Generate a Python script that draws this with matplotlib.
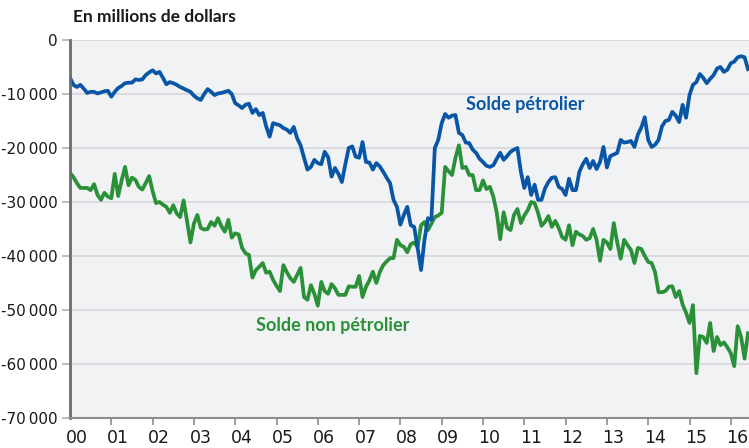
import numpy as np
import matplotlib
matplotlib.use("Agg")
import matplotlib.pyplot as plt
from matplotlib.ticker import FixedLocator, FuncFormatter

# monthly values, Jan 2000 .. Jun 2016 (millions of dollars)
solde_petrolier = [
    -7000, -8300, -8700, -8300, -9000, -9800, -9600, -9600, -9900, -9700, -9500, -9400,
    -10500, -9600, -8900, -8500, -8000, -7900, -7900, -7300, -7400, -7300, -6500, -6000,
    -5600, -6200, -5900, -7000, -8200, -7800, -8000, -8300, -8700, -9000, -9300, -9600,
    -10300, -10800, -11100, -10000, -9100, -9600, -10200, -9900, -9800, -9600, -9400, -10000,
    -11700, -12100, -12600, -12000, -11800, -13500, -12800, -13900, -13500, -16000, -17900, -15400,
    -15600, -15800, -16300, -16600, -17200, -16100, -18200, -19500, -21800, -24000, -23500, -22200,
    -22800, -23000, -20700, -21700, -25300, -23700, -24800, -26300, -23000, -20000, -19700, -21600,
    -21800, -18900, -22600, -22700, -24000, -22800, -23400, -24400, -25500, -26500, -29600, -30900,
    -34200, -32400, -30900, -34300, -34600, -38500, -42600, -37000, -33000, -33300, -20000, -18500,
    -15400, -13700, -14400, -14000, -13900, -17200, -17600, -19000, -19100, -20300, -20900, -22000,
    -22600, -23300, -23500, -23200, -22000, -20900, -22200, -21500, -20700, -20300, -20000, -24400,
    -27400, -25400, -28700, -26800, -29600, -29600, -27500, -26300, -25500, -25400, -27200, -27600,
    -28700, -25700, -27800, -27800, -24400, -23000, -22000, -23700, -22400, -23900, -22600, -19800,
    -23600, -21500, -21200, -20900, -18500, -19000, -18900, -18700, -19800, -17500, -16200, -14300,
    -18500, -19800, -19400, -18500, -16000, -15000, -14800, -13300, -14000, -15200, -12000, -14400,
    -10200, -8300, -7800, -6300, -7000, -8000, -7200, -6500, -5300, -5000, -5900, -5500,
    -4300, -4000, -3200, -3000, -3200, -5400,
]

solde_non_petrolier = [
    -24600, -25400, -26500, -27400, -27400, -27400, -27800, -26700, -28700, -29600, -28300, -29000,
    -29300, -24800, -28900, -26000, -23500, -26900, -25500, -25900, -27200, -27700, -26500, -25200,
    -28000, -30200, -30000, -30500, -30900, -32000, -30600, -32100, -32800, -29700, -33500, -37500,
    -34000, -32400, -34800, -35100, -35000, -33700, -34400, -33000, -34500, -35500, -33300, -36600,
    -35800, -36000, -38500, -39500, -39800, -44000, -42600, -42000, -41300, -43100, -42900, -44400,
    -45500, -46500, -41700, -43000, -44100, -44800, -43500, -42200, -47600, -48100, -45400, -47000,
    -49200, -44800, -46500, -47000, -45200, -46000, -47200, -47200, -47200, -45600, -45700, -45700,
    -43700, -47600, -45700, -44500, -42900, -45000, -43000, -41700, -41000, -40400, -40400, -37000,
    -38000, -38300, -39300, -37800, -37500, -38300, -34300, -33700, -35200, -34000, -32800, -32500,
    -32000, -23500, -24300, -25000, -21800, -19500, -23700, -23500, -25000, -25000, -27800, -27800,
    -26000, -27600, -27200, -29000, -32000, -36900, -31900, -34800, -35200, -32400, -31300, -33900,
    -32500, -31500, -30000, -30200, -32000, -34400, -33700, -32600, -34600, -33500, -34800, -36500,
    -37000, -34300, -38000, -35500, -36000, -36300, -37000, -36700, -35000, -37000, -40900, -37000,
    -37500, -38700, -33900, -37500, -40500, -37000, -38000, -38900, -41300, -38500, -38700, -40000,
    -41100, -41300, -43000, -46700, -46700, -46500, -45700, -45600, -47600, -46500, -49000, -50500,
    -52400, -49100, -61700, -54800, -55000, -56100, -52400, -57600, -55000, -56500, -56000, -56900,
    -58000, -60400, -53000, -55000, -59000, -54300,
]

year_labels = ['00', '01', '02', '03', '04', '05', '06', '07', '08',
               '09', '10', '11', '12', '13', '14', '15', '16']
y_ticks = [0, -10000, -20000, -30000, -40000, -50000, -60000, -70000]

BLUE = '#0a56a6'
GREEN = '#2a9139'
narrow = ['Liberation Sans Narrow', 'DejaVu Sans']

t = 2000 + np.arange(len(solde_petrolier)) / 12.0

fig = plt.figure(figsize=(7.49, 4.48), dpi=100)
ax = fig.add_axes([70/749, 30/448, 679/749, 378/448])
ax.set_facecolor('#f1f2f4')

ax.plot(t, solde_non_petrolier, color=GREEN, lw=2.7, solid_joinstyle='round')
ax.plot(t, solde_petrolier, color=BLUE, lw=2.7, solid_joinstyle='round')

ax.set_xlim(2000, 2000 + 679/41.3)
ax.set_ylim(-70000, 0)

ax.yaxis.set_major_locator(FixedLocator(y_ticks))
ax.yaxis.set_major_formatter(FuncFormatter(
    lambda v, p: '0' if v == 0 else '-' + format(int(abs(v)), ',').replace(',', '\u2009')))
ax.yaxis.grid(True, color='#d9dadd', lw=1.4)
ax.set_axisbelow(True)

# ticks at year boundaries, labels just after them
years = np.arange(2000, 2017)
ax.xaxis.set_major_locator(FixedLocator(years[1:]))
ax.xaxis.set_major_formatter(FuncFormatter(lambda v, p: ''))
ax.xaxis.set_minor_locator(FixedLocator(years + 0.16))
ax.set_xticklabels(year_labels, minor=True)
ax.tick_params(axis='x', which='major', length=5, width=1.2, color='#8c8c8c', direction='out')
ax.tick_params(axis='x', which='minor', length=0, pad=8, labelsize=12.5)
ax.tick_params(axis='y', length=6, width=1.2, color='#b0b0b0', pad=3, labelsize=11)
for lab in ax.get_xticklabels(minor=True) + ax.get_yticklabels():
    lab.set_family(narrow)
    lab.set_color('#1a1a1a')

for s in ['top', 'right']:
    ax.spines[s].set_visible(False)
ax.spines['left'].set_color('#6b6b6b')
ax.spines['left'].set_linewidth(2)
ax.spines['bottom'].set_color('#8c8c8c')
ax.spines['bottom'].set_linewidth(1.5)

fig.text(73/749, 1 - 17/448, 'En millions de dollars', fontsize=12.5,
         fontweight='bold', family='Lato', va='center', ha='left', color='#1a1a1a')
ax.text(2009.6, -12000, 'Solde pétrolier', color=BLUE, fontsize=13,
        fontweight='bold', family='Lato', va='center', ha='left')
ax.text(2004.5, -52800, 'Solde non pétrolier', color=GREEN, fontsize=13,
        fontweight='bold', family='Lato', va='center', ha='left')

fig.savefig('out.png', dpi=100)
